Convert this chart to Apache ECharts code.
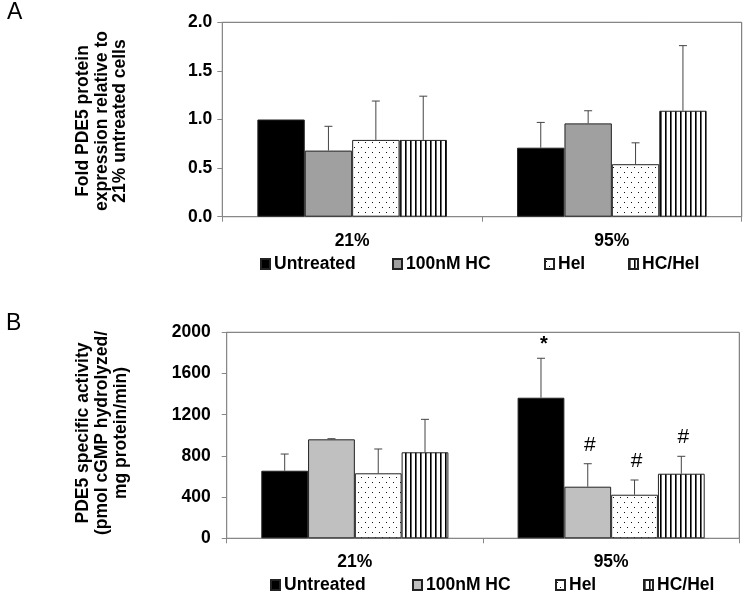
<!DOCTYPE html>
<html>
<head>
<meta charset="utf-8">
<script src="https://cdn.jsdelivr.net/npm/echarts@6/dist/echarts.min.js"></script>
<style>html,body{margin:0;padding:0;background:#fff;}#c{width:750px;height:599px;}</style>
</head>
<body>
<div id="c"></div>
<script>
// ---------- data ----------
const categories = ['21%', '95%'];
const seriesNames = ['Untreated', '100nM HC', 'Hel', 'HC/Hel'];

// Panel A: fold PDE5 protein expression (mean, upper SD)
const proteinUntreated = [1.00, 0.71];
const proteinHC = [0.68, 0.96];
const proteinHel = [0.79, 0.54];
const proteinHCHel = [0.79, 1.09];
const proteinUntreatedErr = [0, 0.26];
const proteinHCErr = [0.25, 0.13];
const proteinHelErr = [0.40, 0.22];
const proteinHCHelErr = [0.45, 0.67];
const proteinTicks = ['0.0', '0.5', '1.0', '1.5', '2.0'];

// Panel B: PDE5 specific activity (mean, upper SD, significance mark)
const activityUntreated = [656, 1365];
const activityHC = [961, 501];
const activityHel = [631, 423];
const activityHCHel = [835, 627];
const activityUntreatedErr = [162, 383];
const activityHCErr = [6, 223];
const activityHelErr = [236, 143];
const activityHCHelErr = [320, 169];
const activityUntreatedMark = ['', '*'];
const activityHCMark = ['', '#'];
const activityHelMark = ['', '#'];
const activityHCHelMark = ['', '#'];
const activityTicks = ['0', '400', '800', '1200', '1600', '2000'];

// ---------- styling ----------
const FONT = 'Liberation Sans, Arial, Helvetica, sans-serif';
const GAP = 0.27;

function dotsPattern() {
  const c = document.createElement('canvas');
  c.width = 7; c.height = 10;
  const g = c.getContext('2d');
  g.fillStyle = '#ffffff'; g.fillRect(0, 0, 7, 10);
  g.fillStyle = '#111111';
  g.fillRect(1, 2, 1, 1);
  g.fillRect(4, 7, 1, 1);
  return c;
}
function stripesPattern() {
  const c = document.createElement('canvas');
  c.width = 5; c.height = 4;
  const g = c.getContext('2d');
  g.fillStyle = '#ffffff'; g.fillRect(0, 0, 5, 4);
  g.fillStyle = '#000000'; g.fillRect(0, 0, 1.6, 4);
  return c;
}
const dots = { image: dotsPattern(), repeat: 'repeat' };
const stripes = { image: stripesPattern(), repeat: 'repeat' };

const fillsA = ['#000000', '#a0a0a0', dots, stripes];
const fillsB = ['#000000', '#c0c0c0', dots, stripes];

const panelA = {
  values: [proteinUntreated, proteinHC, proteinHel, proteinHCHel],
  errs: [proteinUntreatedErr, proteinHCErr, proteinHelErr, proteinHCHelErr],
  marks: [null, null, null, null],
  ticks: proteinTicks
};
const panelB = {
  values: [activityUntreated, activityHC, activityHel, activityHCHel],
  errs: [activityUntreatedErr, activityHCErr, activityHelErr, activityHCHelErr],
  marks: [activityUntreatedMark, activityHCMark, activityHelMark, activityHCHelMark],
  ticks: activityTicks
};

const chart = echarts.init(document.getElementById('c'), null, { renderer: 'canvas', width: 750, height: 599 });

function grid(left, right, top, height) {
  return { left: left, right: right, top: top, height: height, show: true, borderColor: '#666', borderWidth: 1, containLabel: false };
}
function xAxis(gi) {
  return {
    type: 'category', gridIndex: gi, data: categories,
    axisLine: { lineStyle: { color: '#888', width: 1 } },
    axisTick: { show: true, length: 5, alignWithLabel: false, lineStyle: { color: '#888' } },
    axisLabel: { color: '#000', fontFamily: FONT, fontWeight: 'bold', fontSize: 17.5, margin: 15 },
    splitLine: { show: false }
  };
}
function yAxis(gi, ticks, margin) {
  const lo = Number(ticks[0]), hi = Number(ticks[ticks.length - 1]);
  const step = Number(ticks[1]) - lo;
  return {
    type: 'value', gridIndex: gi, min: lo, max: hi, interval: step,
    axisLine: { show: true, lineStyle: { color: '#888', width: 1 } },
    axisTick: { show: true, length: 5, lineStyle: { color: '#888' } },
    axisLabel: {
      color: '#000', fontFamily: FONT, fontWeight: 'bold', fontSize: 17.5, margin: margin,
      formatter: function (v) {
        const i = Math.round((v - lo) / step);
        return ticks[i] !== undefined ? ticks[i] : String(v);
      }
    },
    splitLine: { show: false }
  };
}

const series = [];
const legends = [];
function addPanel(p, gi, fills, prefix, legendLefts, legendTop) {
  seriesNames.forEach(function (n, si) {
    series.push({
      type: 'bar', name: prefix + n, xAxisIndex: gi, yAxisIndex: gi,
      data: p.values[si],
      barGap: '0%', barCategoryGap: (GAP * 100) + '%',
      itemStyle: { color: fills[si], borderColor: '#222', borderWidth: 1 },
      emphasis: { disabled: true },
      z: 2
    });
    legends.push({
      data: [prefix + n], left: legendLefts[si], top: legendTop, padding: 0,
      itemWidth: 9, itemHeight: 10, itemGap: 0, selectedMode: false, icon: 'rect',
      formatter: function (name) { return name.slice(prefix.length); },
      textStyle: { color: '#000', fontFamily: FONT, fontWeight: 'bold', fontSize: 17.5, padding: [0, 0, 0, -1] }
    });
  });
  const errData = [];
  seriesNames.forEach(function (n, si) {
    categories.forEach(function (c, ci) {
      const m = p.marks[si] ? p.marks[si][ci] : '';
      errData.push([ci, si, p.values[si][ci], p.errs[si][ci], m]);
    });
  });
  series.push({
    type: 'custom', xAxisIndex: gi, yAxisIndex: gi, z: 5, silent: true,
    data: errData,
    renderItem: function (params, api) {
      const ci = api.value(0), si = api.value(1), v = api.value(2), e = api.value(3);
      const mark = errData[params.dataIndex][4];
      const base = api.coord([ci, v]);
      const top = api.coord([ci, v + e]);
      const band = api.size([1, 0])[0];
      const bw = band * (1 - GAP) / 4;
      const cx = base[0] + (si - 1.5) * bw;
      const children = [];
      if (e > 0) {
        children.push({ type: 'line', shape: { x1: cx, y1: base[1], x2: cx, y2: top[1] }, style: { stroke: '#444', lineWidth: 1 } });
        children.push({ type: 'line', shape: { x1: cx - 4, y1: top[1], x2: cx + 4, y2: top[1] }, style: { stroke: '#444', lineWidth: 1 } });
      }
      if (mark) {
        const star = mark === '*';
        children.push({
          type: 'text', x: cx + (star ? 3 : 2), y: top[1] - (star ? 14 : 19),
          style: {
            text: mark, fill: '#000', fontFamily: FONT,
            fontWeight: star ? 'bold' : 'normal', fontSize: star ? 20 : 21,
            align: 'center', verticalAlign: 'middle'
          }
        });
      }
      return { type: 'group', children: children };
    }
  });
}

addPanel(panelA, 0, fillsA, 'A|', [260, 392, 544, 628], 255);
addPanel(panelB, 1, fillsB, 'B|', [270, 412, 555, 643], 576);

const option = {
  backgroundColor: '#ffffff',
  animation: false,
  grid: [grid(222.3, 8.3, 22.3, 194.4), grid(226.7, 10.7, 332.3, 206)],
  xAxis: [xAxis(0), xAxis(1)],
  yAxis: [yAxis(0, panelA.ticks, 10), yAxis(1, panelB.ticks, 16)],
  legend: legends,
  series: series,
  graphic: [
    { type: 'text', left: 7, top: 1, style: { text: 'A', fill: '#000', fontFamily: FONT, fontSize: 23 } },
    { type: 'text', left: 6, top: 312, style: { text: 'B', fill: '#000', fontFamily: FONT, fontSize: 23 } },
    {
      type: 'text', x: 102, y: 121, rotation: Math.PI / 2,
      style: {
        text: 'Fold PDE5 protein\nexpression relative to\n21% untreated cells',
        fill: '#000', fontFamily: FONT, fontWeight: 'bold', fontSize: 17.5, lineHeight: 18.5,
        align: 'center', verticalAlign: 'middle'
      }
    },
    {
      type: 'text', x: 102, y: 433, rotation: Math.PI / 2,
      style: {
        text: 'PDE5 specific activity\n(pmol cGMP hydrolyzed/\nmg protein/min)',
        fill: '#000', fontFamily: FONT, fontWeight: 'bold', fontSize: 17.5, lineHeight: 19,
        align: 'center', verticalAlign: 'middle'
      }
    }
  ]
};
chart.setOption(option);
</script>
</body>
</html>
